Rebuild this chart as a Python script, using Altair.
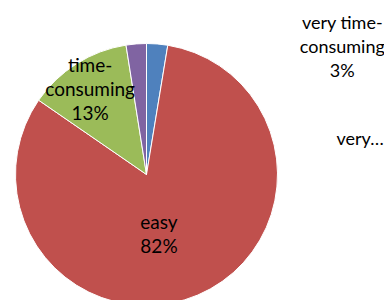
import altair as alt
import pandas as pd

categories = ["very easy", "easy", "time-consuming", "very time-consuming"]
values = [2.6, 82.0, 12.9, 2.5]
labels = ["very…", "easy\n82%", "time-\nconsuming\n13%", "very time-\nconsuming\n3%"]
colors = ["#4F81BD", "#C0504D", "#9BBB59", "#8064A2"]

df = pd.DataFrame({"cat": categories, "val": values, "label": labels,
                   "idx": list(range(len(categories)))})

CX, CY, R = 138.5, 166.5, 131
FONT = "Lato"

base = alt.Chart(df).encode(
    theta=alt.Theta("val:Q", stack=True),
    order=alt.Order("idx:Q"),
    x=alt.value(CX), y=alt.value(CY),
)

arcs = base.mark_arc(radius=R, stroke="white", strokeWidth=1).encode(
    color=alt.Color("cat:N", scale=alt.Scale(domain=categories, range=colors),
                    legend=None, sort=categories)
)

def label_layer(cat, r, dx, dy, size=19):
    return base.mark_text(radius=r, dx=dx, dy=dy, font=FONT, fontSize=size,
                          lineHeight=24, color="black", align="center",
                          baseline="middle", lineBreak="\n").encode(
        text=alt.condition(alt.datum.cat == cat, "label:N", alt.value(""))
    )

layers = [
    arcs,
    label_layer("easy", 60, -11, -7),
    label_layer("time-consuming", 102, -2, -22.5),
    label_layer("very time-consuming", 130, 206, -20.5, 18),
    label_layer("very easy", 130, 203, 95.5, 18),
]

chart = alt.layer(*layers).properties(
    width=376, height=292, autosize=alt.AutoSizeParams(type="none"),
    padding=0
).configure_view(stroke=None)

chart.save("out.html", embed_options={"renderer": "svg", "actions": False})
